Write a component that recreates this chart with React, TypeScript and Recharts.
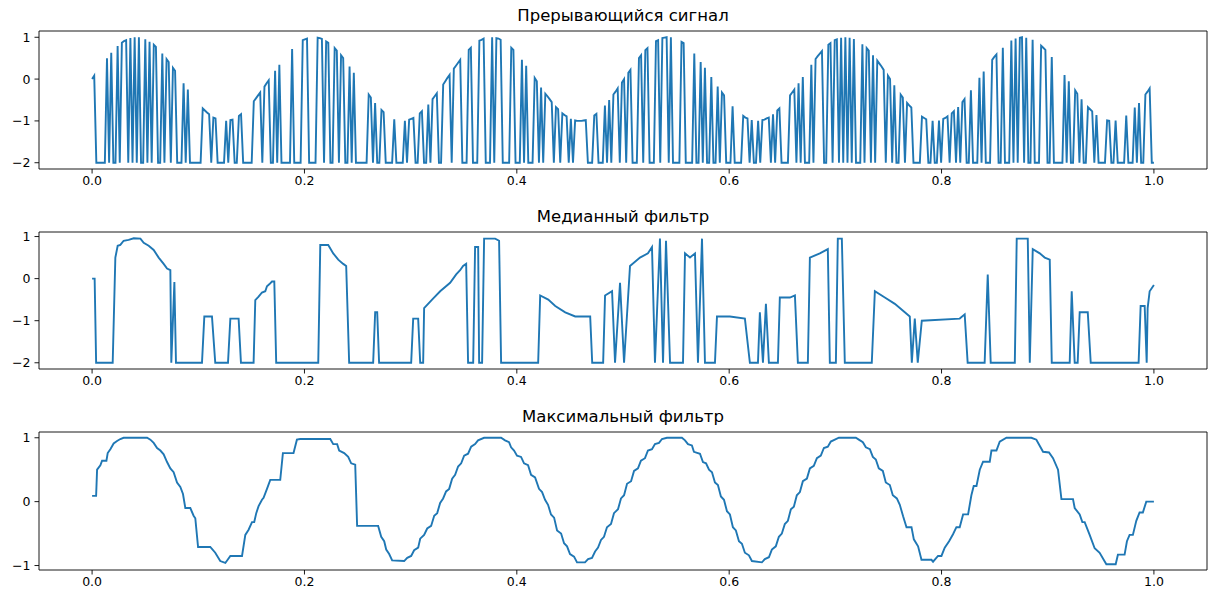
import { LineChart, Line, XAxis, YAxis, ReferenceArea } from 'recharts';

// ---------------------------------------------------------------------------
// Three stacked panels: raw signal with dropouts, median filter, max filter
// ---------------------------------------------------------------------------

const xTicks = [0, 0.2, 0.4, 0.6, 0.8, 1.0];
const signalTicks = [-2, -1, 0, 1];
const maxTicks = [-1, 0, 1];

// raw signal, 500 samples on [0, 1]; dropped samples sit at -2
const signalValues = [
  // 0
  0, 0.08, -2, -2, -2, -2, -2, 0.5, -2, 0.63, -2, -2, 0.79, -2, 0.87, 0.91, 0.93, -2, 0.98, -2,
  // 20
  1, -2, 1, -2, -2, 0.95, -2, 0.89, -2, 0.82, 0.77, -2, -2, 0.61, -2, 0.48, 0.41, -2, 0.27, 0.2,
  // 40
  -2, -2, -2, -0.1, -2, -0.25, -2, -2, -2, -2, -2, -2, -0.7, -0.75, -0.8, -0.84, -2, -0.92, -0.94, -2,
  // 60
  -2, -2, -2, -1, -2, -0.98, -0.97, -2, -2, -0.88, -0.84, -2, -2, -2, -2, -2, -0.53, -0.46, -0.39, -0.32,
  // 80
  -2, -0.18, -0.1, -0.03, -2, -2, 0.2, -2, 0.34, -2, -2, -2, -2, -2, 0.72, -2, -2, -2, -2, 0.93,
  // 100
  0.95, 0.97, -2, -2, -2, -2, 0.99, 0.98, 0.96, -2, 0.9, 0.87, -2, -2, 0.74, 0.68, -2, 0.57, 0.5, -2,
  // 120
  -2, 0.3, -2, 0.15, -2, -2, -2, -2, -2, -2, -0.37, -0.44, -2, -0.57, -2, -2, -0.74, -0.79, -2, -2,
  // 140
  -2, -2, -0.96, -2, -2, -2, -2, -1, -2, -0.97, -0.95, -0.93, -2, -2, -0.82, -0.77, -2, -2, -0.61, -2,
  // 160
  -0.48, -0.41, -0.34, -2, -2, -0.13, -0.05, 0.03, 0.1, -2, 0.25, 0.32, 0.39, 0.46, -2, -2, -2, 0.7, 0.75, -2,
  // 180
  -2, -2, 0.92, 0.94, 0.97, -2, -2, -2, 1, -2, 0.98, 0.97, 0.94, -2, -2, -2, -2, 0.75, 0.7, -2,
  // 200
  -2, -2, 0.46, -2, 0.32, -2, -2, -2, 0.03, -0.05, -2, -0.2, -2, -0.35, -0.41, -0.48, -0.55, -2, -0.67, -0.72,
  // 220
  -2, -0.82, -0.86, -0.89, -2, -0.95, -2, -0.99, -1, -1, -1, -0.99, -0.98, -2, -2, -2, -0.87, -0.83, -2, -2,
  // 240
  -2, -0.63, -2, -0.5, -2, -0.37, -0.3, -0.22, -2, -0.08, 0, -2, 0.15, 0.22, -2, -2, -2, 0.5, 0.57, -2,
  // 260
  0.69, 0.74, -2, -2, -2, 0.91, 0.93, -2, 0.98, 0.99, 1, -2, 1, -2, -2, -2, -2, 0.89, 0.86, -2,
  // 280
  -2, -2, -2, 0.61, -2, -2, 0.41, -2, 0.27, -2, -2, 0.05, -2, -2, -0.18, -2, -0.32, -0.39, -2, -2,
  // 300
  -2, -0.65, -2, -2, -2, -2, -0.88, -0.92, -0.94, -2, -0.98, -2, -2, -1, -2, -0.98, -0.97, -0.94, -0.92, -2,
  // 320
  -0.84, -2, -0.75, -0.7, -2, -2, -2, -2, -0.39, -0.32, -0.25, -2, -0.1, -2, 0.05, -2, -2, -2, 0.34, -2,
  // 340
  0.48, 0.55, 0.61, 0.67, -2, -2, 0.82, 0.86, -2, 0.93, 0.95, -2, 0.99, -2, 1, -2, 0.99, -2, 0.96, -2,
  // 360
  -2, -2, 0.83, -2, 0.74, 0.68, -2, 0.57, -2, 0.44, 0.37, 0.3, 0.22, -2, 0.08, 0, -2, -0.15, -2, -2,
  // 380
  -0.37, -0.44, -2, -0.57, -0.63, -0.68, -2, -2, -2, -2, -0.9, -0.93, -0.96, -2, -2, -1, -2, -2, -0.99, -2,
  // 400
  -0.95, -0.93, -0.89, -2, -0.82, -0.77, -2, -0.67, -2, -0.55, -0.48, -2, -2, -0.27, -2, -2, -2, 0.03, -2, 0.18,
  // 420
  -2, -2, -2, 0.46, 0.53, 0.59, -2, -2, 0.75, -2, -2, -2, 0.92, -2, 0.97, -2, 0.99, 1, -2, 0.99,
  // 440
  -2, -2, 0.94, -2, -2, -2, 0.8, 0.75, 0.7, -2, -2, 0.53, -2, -2, -2, -2, -2, 0.1, -2, -0.05,
  // 460
  -2, -2, -0.27, -0.35, -2, -0.48, -2, -2, -0.67, -0.72, -0.77, -2, -0.86, -2, -2, -2, -2, -0.99, -1, -2,
  // 480
  -2, -0.99, -2, -2, -2, -2, -0.87, -2, -2, -2, -0.68, -2, -0.57, -2, -2, -0.37, -0.3, -0.22, -2, -2,
];

// median filter output, read as [t, value] vertices
const medianPts: [number, number][] = [
  [0, 0], [0.0024, 0], [0.0038, -2], [0.0194, -2], [0.0219, 0.5], [0.0241, 0.78], [0.0266, 0.8],
  [0.0297, 0.9], [0.0344, 0.92], [0.0392, 0.96], [0.0455, 0.95], [0.0486, 0.85], [0.0533, 0.78],
  [0.058, 0.68], [0.0627, 0.5], [0.0674, 0.35], [0.0706, 0.24], [0.0737, 0.2], [0.0746, -2],
  [0.0775, -0.08], [0.079, -2], [0.1035, -2], [0.1057, -0.9], [0.1129, -0.9], [0.116, -2],
  [0.128, -2], [0.1302, -0.95], [0.138, -0.95], [0.1402, -2], [0.1521, -2], [0.1537, -0.51],
  [0.1568, -0.43], [0.16, -0.33], [0.1631, -0.3], [0.1647, -0.18], [0.1671, -0.13], [0.1694, -0.07],
  [0.1716, -0.07], [0.1734, -2], [0.213, -2], [0.2149, 0.8], [0.2224, 0.8], [0.2271, 0.6],
  [0.2318, 0.45], [0.2365, 0.35], [0.2393, 0.3], [0.2421, -2], [0.2647, -2], [0.2666, -0.8],
  [0.2685, -0.8], [0.2703, -2], [0.3005, -2], [0.3024, -0.95], [0.3071, -0.95], [0.309, -2],
  [0.3118, -2], [0.3127, -0.7], [0.3202, -0.5], [0.3278, -0.3], [0.3372, -0.1], [0.3429, 0.1],
  [0.3466, 0.2], [0.3494, 0.3], [0.3523, 0.35], [0.3541, -2], [0.3589, -2], [0.3607, 0.75],
  [0.3636, 0.75], [0.3645, -2], [0.3673, -2], [0.3692, 0.95], [0.3796, 0.95], [0.3833, 0.9],
  [0.3852, -2], [0.4201, -2], [0.422, -0.4], [0.4296, -0.5], [0.4362, -0.65], [0.4456, -0.8],
  [0.455, -0.9], [0.4691, -0.9], [0.471, -2], [0.4813, -2], [0.4831, -0.4], [0.4897, -0.3],
  [0.4925, -2], [0.4972, -0.1], [0.501, -2], [0.5066, 0.3], [0.516, 0.5], [0.5235, 0.6],
  [0.5273, 0.75], [0.5301, -2], [0.5348, 0.95], [0.5377, -2], [0.5405, 0.9], [0.5443, -2],
  [0.5565, -2], [0.5584, 0.6], [0.5631, 0.5], [0.5678, 0.6], [0.5706, -2], [0.5744, 0.95],
  [0.5772, -2], [0.5866, -2], [0.5885, -0.9], [0.6007, -0.9], [0.6148, -0.95], [0.6195, -2],
  [0.6271, -2], [0.6289, -0.8], [0.6318, -2], [0.6346, -0.6], [0.6374, -2], [0.6459, -2],
  [0.6477, -0.45], [0.6572, -0.45], [0.6619, -0.4], [0.6647, -2], [0.6741, -2], [0.676, 0.5],
  [0.6854, 0.6], [0.6929, 0.7], [0.6948, -2], [0.7005, -2], [0.7023, 0.95], [0.7061, 0.95],
  [0.7089, -2], [0.7343, -2], [0.7372, -0.3], [0.7466, -0.45], [0.756, -0.6], [0.7654, -0.8],
  [0.7701, -0.9], [0.772, -2], [0.7748, -0.95], [0.7776, -2], [0.7814, -1.0], [0.8171, -0.95],
  [0.8218, -0.85], [0.8246, -2], [0.8406, -2], [0.8435, 0.1], [0.8463, -2], [0.869, -2],
  [0.8708, 0.95], [0.8812, 0.95], [0.8831, -2], [0.8859, 0.7], [0.8925, 0.6], [0.8972, 0.5],
  [0.9019, 0.45], [0.9038, -2], [0.9207, -2], [0.9226, -0.3], [0.9254, -2], [0.9282, -2],
  [0.9301, -0.8], [0.9377, -0.8], [0.9405, -2], [0.9856, -2], [0.9875, -0.65], [0.9913, -0.65],
  [0.9932, -2], [0.9941, -0.7], [0.996, -0.3], [1.0, -0.15],
];

// maximum filter output, read as [t, value] vertices
const maxPts: [number, number][] = [
  [0, 0.09], [0.0038, 0.09], [0.0047, 0.5], [0.0078, 0.57], [0.0094, 0.64], [0.0135, 0.64],
  [0.0147, 0.76], [0.0172, 0.82], [0.0203, 0.91], [0.0235, 0.95], [0.0266, 0.98], [0.0297, 1.0],
  [0.0518, 1.0], [0.0549, 0.97], [0.058, 0.92], [0.0612, 0.84], [0.0643, 0.8], [0.0674, 0.74],
  [0.0706, 0.62], [0.0737, 0.52], [0.0768, 0.46], [0.08, 0.3], [0.0831, 0.23], [0.0856, 0.12],
  [0.0878, -0.1], [0.0925, -0.1], [0.0956, -0.22], [0.0972, -0.26], [0.0998, -0.71], [0.1113, -0.71],
  [0.116, -0.8], [0.1207, -0.93], [0.1255, -0.96], [0.1302, -0.85], [0.1412, -0.85], [0.1443, -0.52],
  [0.1474, -0.44], [0.1506, -0.32], [0.1527, -0.32], [0.1546, -0.18], [0.1568, -0.07], [0.16, 0.03],
  [0.1615, 0.06], [0.1647, 0.2], [0.1678, 0.34], [0.1772, 0.34], [0.1797, 0.76], [0.1897, 0.76],
  [0.1929, 0.97], [0.196, 0.98], [0.2243, 0.98], [0.2271, 0.9], [0.2308, 0.9], [0.2327, 0.8],
  [0.2374, 0.76], [0.2412, 0.7], [0.244, 0.6], [0.2478, 0.58], [0.2496, -0.38], [0.2694, -0.38],
  [0.2723, -0.55], [0.2751, -0.62], [0.277, -0.75], [0.2798, -0.82], [0.2826, -0.92], [0.2939, -0.93],
  [0.2968, -0.88], [0.3005, -0.85], [0.3033, -0.76], [0.3071, -0.72], [0.309, -0.58], [0.3127, -0.52],
  [0.3156, -0.42], [0.3193, -0.38], [0.3222, -0.22], [0.325, -0.18], [0.3278, -0.02], [0.3306, 0.05],
  [0.3334, 0.16], [0.3363, 0.2], [0.3391, 0.36], [0.3419, 0.42], [0.3447, 0.55], [0.3476, 0.6],
  [0.3504, 0.72], [0.3541, 0.75], [0.357, 0.86], [0.3607, 0.9], [0.3635, 0.96], [0.3692, 1.0],
  [0.3852, 1.0], [0.3889, 0.96], [0.3927, 0.93], [0.3946, 0.85], [0.3974, 0.8], [0.4002, 0.72],
  [0.404, 0.7], [0.4068, 0.6], [0.4106, 0.57], [0.4134, 0.42], [0.4172, 0.38], [0.4209, 0.2],
  [0.4238, 0.15], [0.4266, 0.03], [0.4294, -0.05], [0.4322, -0.2], [0.4351, -0.25], [0.4379, -0.45],
  [0.4417, -0.5], [0.4445, -0.65], [0.4473, -0.7], [0.4501, -0.82], [0.4539, -0.86], [0.4567, -0.95],
  [0.4642, -0.95], [0.4671, -0.9], [0.4708, -0.88], [0.4737, -0.78], [0.4765, -0.72], [0.4793, -0.6],
  [0.4821, -0.55], [0.4849, -0.4], [0.4887, -0.35], [0.4915, -0.18], [0.4953, -0.12], [0.4981, 0.05],
  [0.501, 0.1], [0.5038, 0.28], [0.5076, 0.32], [0.5104, 0.48], [0.5141, 0.52], [0.5169, 0.64],
  [0.5207, 0.68], [0.5235, 0.8], [0.5273, 0.82], [0.5301, 0.9], [0.5339, 0.92], [0.5367, 0.98],
  [0.5414, 1.0], [0.5555, 1.0], [0.5584, 0.96], [0.5612, 0.9], [0.5649, 0.88], [0.5668, 0.78],
  [0.5725, 0.75], [0.5753, 0.62], [0.5782, 0.6], [0.581, 0.5], [0.5838, 0.46], [0.5866, 0.3],
  [0.5894, 0.26], [0.5922, 0.08], [0.5951, 0.03], [0.5979, -0.15], [0.6007, -0.2], [0.6035, -0.4],
  [0.6063, -0.45], [0.6092, -0.62], [0.612, -0.66], [0.6148, -0.8], [0.6186, -0.84], [0.6214, -0.93],
  [0.6308, -0.95], [0.6336, -0.9], [0.6374, -0.87], [0.6402, -0.75], [0.6439, -0.7], [0.6468, -0.55],
  [0.6496, -0.5], [0.6524, -0.35], [0.6553, -0.3], [0.6581, -0.12], [0.6609, -0.08], [0.6637, 0.1],
  [0.6666, 0.15], [0.6694, 0.32], [0.6732, 0.36], [0.676, 0.52], [0.6797, 0.56], [0.6826, 0.68],
  [0.6863, 0.72], [0.6892, 0.84], [0.6929, 0.86], [0.6957, 0.94], [0.6995, 0.97], [0.7033, 1.0],
  [0.7193, 1.0], [0.7221, 0.97], [0.7259, 0.93], [0.7287, 0.85], [0.7325, 0.82], [0.7353, 0.7],
  [0.7381, 0.66], [0.7409, 0.52], [0.7447, 0.48], [0.7475, 0.3], [0.7513, 0.26], [0.7541, 0.1],
  [0.7579, 0.05], [0.7607, -0.05],
  [0.7638, -0.23], [0.767, -0.4], [0.7717, -0.4], [0.7739, -0.59], [0.7779, -0.7], [0.7811, -0.91],
  [0.7905, -0.91], [0.792, -0.94], [0.7967, -0.85], [0.7999, -0.85], [0.803, -0.72], [0.8071, -0.62],
  [0.8108, -0.51], [0.814, -0.4], [0.8171, -0.4], [0.8203, -0.2], [0.825, -0.2], [0.8281, 0.1],
  [0.8303, 0.245], [0.8329, 0.245], [0.836, 0.5], [0.8391, 0.625], [0.8454, 0.625], [0.847, 0.8],
  [0.8517, 0.8], [0.8548, 0.94], [0.8611, 1.0], [0.8846, 1.0], [0.8893, 0.97], [0.8956, 0.78],
  [0.9012, 0.77], [0.905, 0.68], [0.9097, 0.5], [0.9129, 0.04], [0.9238, 0.04], [0.9254, -0.1],
  [0.9301, -0.2], [0.9326, -0.32], [0.9348, -0.32], [0.9395, -0.52], [0.9442, -0.73], [0.9489, -0.8],
  [0.9552, -0.98], [0.964, -0.98], [0.9661, -0.83], [0.9724, -0.83], [0.9746, -0.62], [0.9771, -0.52],
  [0.9802, -0.52], [0.9834, -0.3], [0.9865, -0.17], [0.9896, -0.17], [0.9928, 0.0], [1.0, 0.0],
];

const signalData = signalValues.map((v, i) => ({ t: i / (signalValues.length - 1), v }));
const medianData = medianPts.map(([t, v]) => ({ t, v }));
const maxData = maxPts.map(([t, v]) => ({ t, v }));

const FONT = '"DejaVu Sans", sans-serif';
const BLUE = '#1f77b4';
const W = 1209;
const PLOT_LEFT = 39;
const PLOT_RIGHT = 2;

const fmtX = (v: number) => v.toFixed(1);
const fmtY = (v: number) => (v < 0 ? '\u2212' + Math.abs(v) : String(v));

interface PanelProps {
  title: string;
  data: { t: number; v: number }[];
  yDomain: [number, number];
  yTicks: number[];
  top: number;
  height: number;
  marginTop: number;
  marginBottom: number;
}

function Panel({ title, data, yDomain, yTicks, top, height, marginTop, marginBottom }: PanelProps) {
  return (
    <div style={{ position: 'absolute', left: 0, top, width: W, height }}>
      <div
        style={{
          position: 'absolute',
          left: PLOT_LEFT,
          width: W - PLOT_LEFT - PLOT_RIGHT,
          top: marginTop - 25,
          textAlign: 'center',
          fontFamily: FONT,
          fontSize: 16.5,
          lineHeight: '20px',
          color: '#000',
        }}
      >
        {title}
      </div>
      <LineChart
        width={W}
        height={height}
        data={data}
        margin={{ top: marginTop, right: PLOT_RIGHT, left: 0, bottom: marginBottom }}
      >
        <XAxis
          dataKey="t"
          type="number"
          domain={[-0.05, 1.05]}
          ticks={xTicks}
          tickFormatter={fmtX}
          allowDataOverflow
          axisLine={false}
          tickLine={{ stroke: '#000', strokeWidth: 0.9 }}
          tickSize={4.5}
          tickMargin={3}
          height={26}
          tick={{ fill: '#000', fontSize: 12.5, fontFamily: FONT }}
        />
        <YAxis
          type="number"
          domain={yDomain}
          ticks={yTicks}
          tickFormatter={fmtY}
          allowDataOverflow
          axisLine={false}
          tickLine={{ stroke: '#000', strokeWidth: 0.9 }}
          tickSize={4.5}
          tickMargin={4}
          width={PLOT_LEFT}
          tick={{ fill: '#000', fontSize: 12.5, fontFamily: FONT }}
        />
        <Line
          dataKey="v"
          type="linear"
          stroke={BLUE}
          strokeWidth={1.9}
          dot={false}
          activeDot={false}
          isAnimationActive={false}
        />
        <ReferenceArea
          x1={-0.05}
          x2={1.05}
          y1={yDomain[0]}
          y2={yDomain[1]}
          fill="none"
          stroke="#000"
          strokeWidth={0.9}
          ifOverflow="visible"
        />
      </LineChart>
    </div>
  );
}

export default function App() {
  return (
    <div style={{ position: 'absolute', left: 0, top: 0, width: W, height: 596, background: '#fff' }}>
      <Panel
        title="Прерывающийся сигнал"
        data={signalData}
        yDomain={[-2.15, 1.15]}
        yTicks={signalTicks}
        top={0}
        height={200}
        marginTop={31}
        marginBottom={5}
      />
      <Panel
        title="Медианный фильтр"
        data={medianData}
        yDomain={[-2.148, 1.108]}
        yTicks={signalTicks}
        top={200}
        height={200}
        marginTop={32}
        marginBottom={5}
      />
      <Panel
        title="Максимальный фильтр"
        data={maxData}
        yDomain={[-1.07, 1.09]}
        yTicks={maxTicks}
        top={400}
        height={196}
        marginTop={32}
        marginBottom={0}
      />
    </div>
  );
}
